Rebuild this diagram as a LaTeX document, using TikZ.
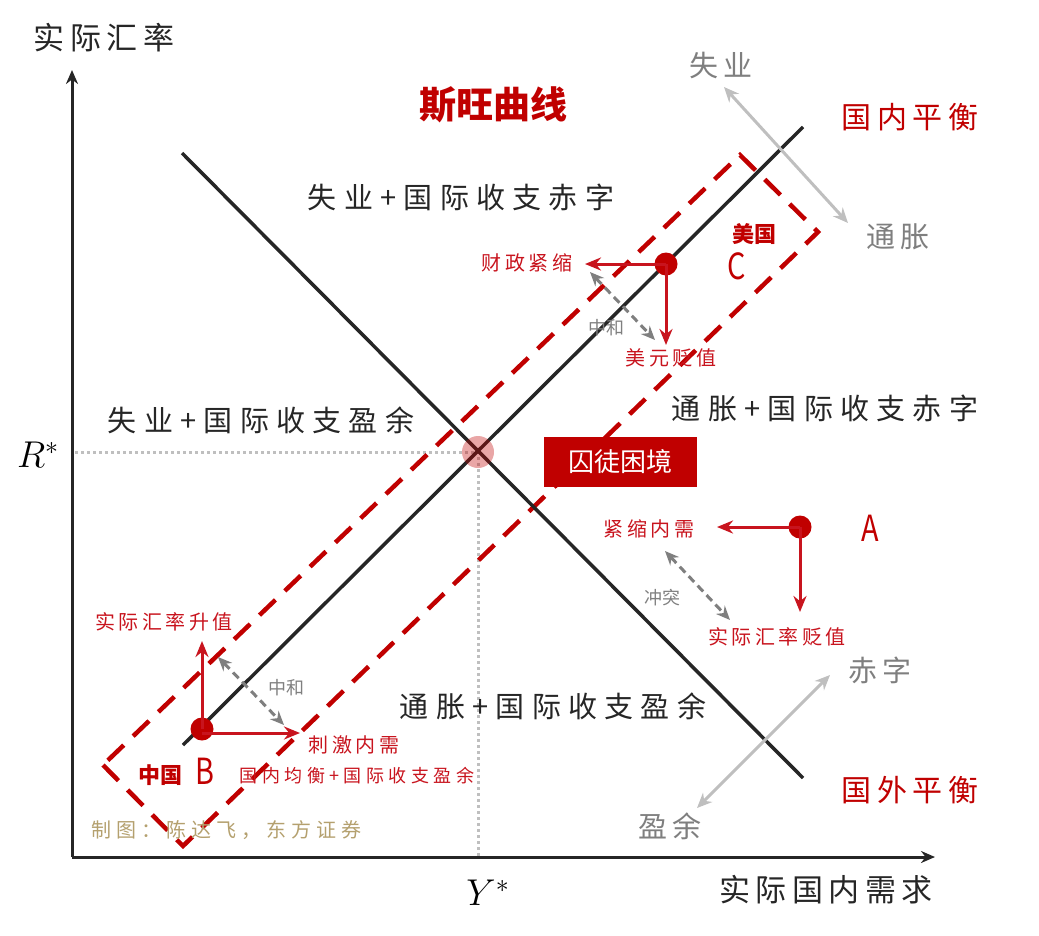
\documentclass[tikz,border=0pt]{standalone}
\usepackage{fontspec}
\setmainfont{Noto Sans CJK SC}
\newfontfamily\cjksp[LetterSpace=18]{Noto Sans CJK SC}
\newfontfamily\cjkwide[LetterSpace=25]{Noto Sans CJK SC}
\usetikzlibrary{arrows.meta, positioning}
\definecolor{swanred}{HTML}{C00000}
\definecolor{movered}{HTML}{C8141E}
\definecolor{lightgrey}{HTML}{BFBFBF}
\definecolor{midgrey}{HTML}{7F7F7F}
\definecolor{inkblack}{HTML}{262626}
\definecolor{creditgold}{HTML}{B4A06E}
\newcommand{\fsz}[1]{\fontsize{#1}{#1}\selectfont}

\tikzset{
  dot/.style={circle, fill=swanred, inner sep=0pt, minimum size=23},
  move/.style={movered, line width=3, -{Stealth[length=16,width=13]}},
  offset/.style={midgrey, line width=3, dash pattern=on 8 off 5,
    {Stealth[length=14,width=12]}-{Stealth[length=14,width=12]}},
  drift/.style={lightgrey, line width=3,
    {Stealth[length=15,width=13]}-{Stealth[length=15,width=13]}},
  region/.style={inkblack, font=\cjkwide\fsz{29}},
  side/.style={midgrey, font=\cjksp\fsz{29}},
  policy/.style={movered, font=\cjksp\fsz{20}},
  note/.style={midgrey, font=\fsz{18}}
}

\begin{document}
\begin{tikzpicture}[x=1pt, y=-1pt]
  \useasboundingbox (0,0) rectangle (1039,935);
  % axes
  \coordinate (O) at (72,857);
  \coordinate (ytop) at (72,70);
  \coordinate (xend) at (935,857);
  \draw[inkblack, line width=3, -{Stealth[length=14,width=12]}] (O) -- (ytop);
  \draw[inkblack, line width=3, -{Stealth[length=14,width=12]}] (O) -- (xend);
  \node[font=\cjksp\fsz{31}, inkblack] (ylab) at (104,38) {实际汇率};
  \node[font=\cjksp\fsz{31}, inkblack] (xlab) at (826,890) {实际国内需求};

  % equilibrium guides
  \coordinate (E) at (478,452);
  \coordinate (Ry) at (75,452);
  \coordinate (Yx) at (478,857);
  \draw[lightgrey, line width=3, dash pattern=on 3 off 3] (Ry) -- (E) -- (Yx);
  \node[font=\fsz{24}] (rstar) at (38,455) {\scalebox{1.5}{$R^*$}};
  \node[font=\fsz{24}] (ystar) at (488,893) {\scalebox{1.5}{$Y^*$}};

  % band around internal balance
  \coordinate (bandL) at (103,765);
  \coordinate (bandB) at (183,846);
  \coordinate (bandR) at (818,232);
  \coordinate (bandT) at (740,155);
  \draw[swanred, line width=4.5, dash pattern=on 22 off 13]
    (bandL) -- (bandB) -- (bandR) -- (bandT) -- cycle;

  % balance lines
  \coordinate (ib1) at (183,745);
  \coordinate (ib2) at (803,127);
  \coordinate (eb1) at (182,153);
  \coordinate (eb2) at (803,778);
  \draw[inkblack, line width=3.5] (ib1) -- (ib2);
  \draw[inkblack, line width=3.5] (eb1) -- (eb2);
  \fill[swanred, opacity=0.35] (E) circle (16);

  \node[swanred, font=\bfseries\fsz{37}] (title) at (493,105) {斯旺曲线};
  \node[swanred, font=\cjksp\fsz{30}] (ibal) at (910,117) {国内平衡};
  \node[swanred, font=\cjksp\fsz{30}] (ebal) at (910,790) {国外平衡};

  % pressure directions
  \node[side] (unemp) at (721,65) {失业};
  \node[side] (infl) at (898,237) {通胀};
  \node[side] (defic) at (880,670) {赤字};
  \node[side] (surp) at (670,826) {盈余};
  \coordinate (d1a) at (724,87);
  \coordinate (d1b) at (848,223);
  \coordinate (d2a) at (830,675);
  \coordinate (d2b) at (697,808);
  \draw[drift] (d1a) -- (d1b);
  \draw[drift] (d2a) -- (d2b);

  % quadrants
  \node[region] (q1) at (461,197) {失业+国际收支赤字};
  \node[region] (q2) at (261,420) {失业+国际收支盈余};
  \node[region] (q3) at (825,408) {通胀+国际收支赤字};
  \node[region] (q4) at (553,706) {通胀+国际收支盈余};
  \node[fill=swanred, text=white, font=\fsz{26}, minimum width=153,
    minimum height=50, inner sep=0pt] (dilemma) at (620,462) {囚徒困境};

  % C: United States
  \node[dot] (C) at (666,264) {};
  \coordinate (Cl) at (585,264);
  \coordinate (Cd) at (666,345);
  \draw[move] (C.center) -- (Cl);
  \draw[move] (C.center) -- (Cd);
  \node[policy] (fisc) at (527,263) {财政紧缩};
  \node[policy] (usd) at (671,358) {美元贬值};
  \coordinate (Co1) at (590,272);
  \coordinate (Co2) at (655,340);
  \draw[offset] (Co1) -- (Co2);
  \node[note] (neutC) at (606,328) {中和};
  \node[swanred, font=\bfseries\fsz{22}] (us) at (754,234) {美国};
  \node[swanred, font=\fsz{36}, xscale=0.8] (Clab) at (737,266) {C};

  % A
  \node[dot] (A) at (800,527) {};
  \coordinate (Al) at (717,527);
  \coordinate (Ad) at (800,612);
  \draw[move] (A.center) -- (Al);
  \draw[move] (A.center) -- (Ad);
  \node[policy] (tight) at (649,529) {紧缩内需};
  \node[policy] (depr) at (777,637) {实际汇率贬值};
  \coordinate (Ao1) at (665,551);
  \coordinate (Ao2) at (730,620);
  \draw[offset] (Ao1) -- (Ao2);
  \node[note] (clash) at (662,598) {冲突};
  \node[swanred, font=\fsz{36}, xscale=0.8] (Alab) at (870,528) {A};

  % B: China
  \node[dot] (B) at (202,729) {};
  \coordinate (Bu) at (202,641);
  \coordinate (Br) at (300,733);
  \draw[move] (B.center) -- (Bu);
  \draw[move] (B.center |- Br) -- (Br);
  \node[policy] (appr) at (164,622) {实际汇率升值};
  \node[policy] (stim) at (354,745) {刺激内需};
  \coordinate (Bo1) at (218,657);
  \coordinate (Bo2) at (284,725);
  \draw[offset] (Bo1) -- (Bo2);
  \node[note] (neutB) at (286,688) {中和};
  \node[swanred, font=\bfseries\fsz{22}] (cn) at (160,775) {中国};
  \node[swanred, font=\fsz{36}, xscale=0.8] (Blab) at (205,771) {B};
  \node[movered, font=\cjkwide\fsz{18}] (cnstate) at (357,776) {国内均衡+国际收支盈余};

  \node[creditgold, font=\cjkwide\fsz{20}] (credit) at (226,830) {制图：陈达飞，东方证券};
\end{tikzpicture}
\end{document}
